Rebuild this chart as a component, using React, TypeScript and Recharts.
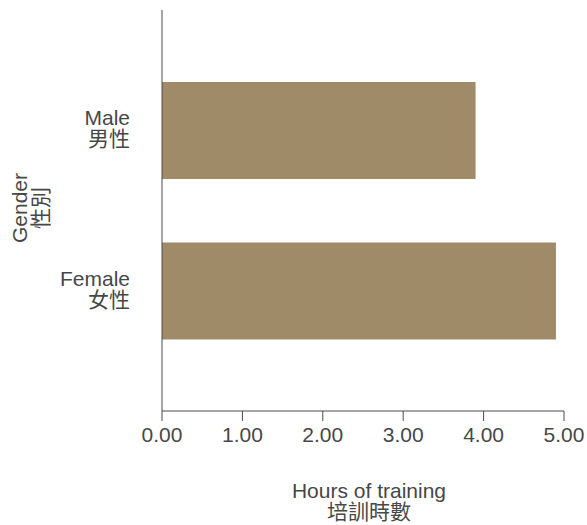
import { BarChart, Bar, XAxis, YAxis } from 'recharts'

const categories = ['Male', 'Female']
const categoriesZh = ['男性', '女性']
const hours = [3.9, 4.9]
const xTicks = [0, 1, 2, 3, 4, 5]

const data = categories.map((name, i) => ({ name, zh: categoriesZh[i], hours: hours[i] }))

const FONT = '"Liberation Sans", Arial, "Noto Sans CJK TC", sans-serif'
const TEXT = '#474747'
const AXIS = '#4a4a4a'

const GenderTick = (props: any) => {
  const { x, y, payload } = props
  const row = data.find((d) => d.name === payload.value)
  return (
    <text x={x - 24} y={y} textAnchor="end" fontSize={21} fontFamily={FONT} fill={TEXT}>
      <tspan x={x - 24} dy={-5}>{payload.value}</tspan>
      <tspan x={x - 24} dy={21}>{row ? row.zh : ''}</tspan>
    </text>
  )
}

export default function App() {
  return (
    <div style={{ position: 'absolute', left: 0, top: 0, background: '#fff' }}>
      <BarChart
        width={587}
        height={525}
        data={data}
        layout="vertical"
        margin={{ top: 10, right: 23, left: 0, bottom: 0 }}
      >
        <XAxis
          type="number"
          dataKey="hours"
          domain={[0, 5]}
          ticks={xTicks}
          interval={0}
          tickFormatter={(v: number) => v.toFixed(2)}
          height={114}
          tickSize={10}
          tickMargin={6}
          stroke={AXIS}
          tick={{ fontSize: 21, fill: TEXT, fontFamily: FONT }}
          label={{
            content: (p: any) => {
              const vb = p.viewBox
              const cx = vb.x + vb.width / 2 + 6
              return (
                <text textAnchor="middle" fontSize={21} fontFamily={FONT} fill={TEXT}>
                  <tspan x={cx} y={498}>Hours of training</tspan>
                  <tspan x={cx} y={519}>培訓時數</tspan>
                </text>
              )
            },
          }}
        />
        <YAxis
          type="category"
          dataKey="name"
          width={162}
          padding={{ top: 40, bottom: 40 }}
          tickLine={false}
          stroke={AXIS}
          tick={<GenderTick />}
          label={{
            content: () => (
              <text
                transform="translate(27,208) rotate(-90)"
                textAnchor="middle"
                fontSize={21}
                fontFamily={FONT}
                fill={TEXT}
              >
                <tspan x={0} y={0}>Gender</tspan>
                <tspan x={0} y={21}>性別</tspan>
              </text>
            ),
          }}
        />
        <Bar dataKey="hours" fill="#A08B69" barSize={97} isAnimationActive={false} />
      </BarChart>
    </div>
  )
}
